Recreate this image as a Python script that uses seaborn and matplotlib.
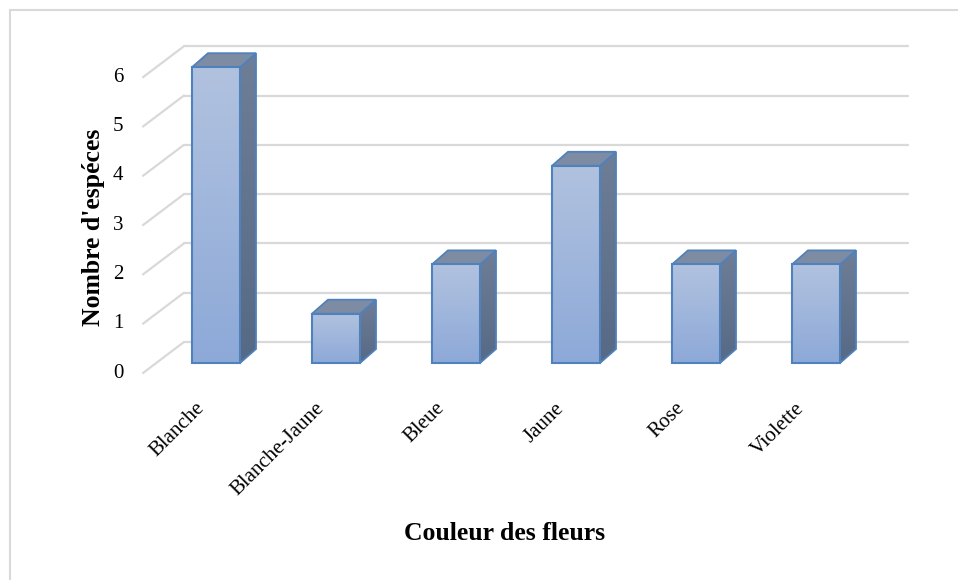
import numpy as np
import seaborn as sns
import matplotlib.pyplot as plt
from matplotlib.patches import Polygon, Rectangle

# Données du graphique
couleurs = ['Blanche', 'Blanche-Jaune', 'Bleue', 'Jaune', 'Rose', 'Violette']
nb_especes = [6, 1, 2, 4, 2, 2]
graduations = [0, 1, 2, 3, 4, 5, 6]

# Géométrie de la vue 3D (pixels de l'image)
W, H = 958, 580
X0_PX, PX_PER_CAT = 216, 120      # centre de la 1re barre, écart entre barres
Y0_PX, PX_PER_UNIT = 363, 49.3    # base des barres, pixels par unité


def px_x(x):
    return (x - X0_PX) / PX_PER_CAT


def px_y(y):
    return (Y0_PX - y) / PX_PER_UNIT


# décalages de profondeur (en unités de données)
BAR_DX, BAR_DY = 16 / PX_PER_CAT, 14 / PX_PER_UNIT
WALL_X0, WALL_X1 = px_x(184), px_x(908)
WALL_DY = (Y0_PX - 342) / PX_PER_UNIT
FRONT_X = px_x(143)
FRONT_DY = (Y0_PX - 373) / PX_PER_UNIT

FONT = 'Liberation Serif'
GRID = '#D9D9D9'
EDGE = '#4F81BD'

sns.set_theme(style='white')
plt.rcParams['font.family'] = [FONT, 'DejaVu Serif']
plt.rcParams['text.color'] = 'black'

fig = plt.figure(figsize=(W / 100, H / 100), dpi=100)
ax = fig.add_axes([0, 0, 1, 1])

# Barres (faces avant) via seaborn
sns.barplot(x=couleurs, y=nb_especes, width=0.4, color='#9DB3DA',
            edgecolor=EDGE, linewidth=1.5, ax=ax, zorder=5)

# Paroi du fond et paroi latérale (quadrillage)
for v in graduations:
    ax.plot([WALL_X0, WALL_X1], [v + WALL_DY, v + WALL_DY], color=GRID, lw=1.6, zorder=1)
    ax.plot([FRONT_X, WALL_X0], [v + FRONT_DY, v + WALL_DY], color=GRID, lw=1.6, zorder=1)
    ax.text(px_x(118), v + FRONT_DY, str(v), ha='center', va='center',
            fontsize=15, family=FONT)

# Relief des barres : dégradé + faces latérale et supérieure
grad = np.linspace(0, 1, 256).reshape(-1, 1)
for p in ax.patches[:len(nb_especes)]:
    x0, w, h = p.get_x(), p.get_width(), p.get_height()
    x1 = x0 + w
    p.set_facecolor('none')

    front = ax.imshow(grad, extent=[x0, x1, 0, h], origin='lower', aspect='auto',
                      cmap=sns.blend_palette(['#8DA9D8', '#B1C2DF'], as_cmap=True),
                      zorder=4)
    front.set_clip_path(p)

    side = Polygon([(x1, 0), (x1 + BAR_DX, BAR_DY), (x1 + BAR_DX, h + BAR_DY), (x1, h)],
                   closed=True, facecolor='none', edgecolor=EDGE, lw=1.3, zorder=3)
    ax.add_patch(side)
    side_img = ax.imshow(grad, extent=[x1, x1 + BAR_DX, 0, h + BAR_DY], origin='lower',
                         aspect='auto',
                         cmap=sns.blend_palette(['#566985', '#6F7E97'], as_cmap=True),
                         zorder=2)
    side_img.set_clip_path(side)

    top = Polygon([(x0, h), (x1, h), (x1 + BAR_DX, h + BAR_DY), (x0 + BAR_DX, h + BAR_DY)],
                  closed=True, facecolor='#7E8CA3', edgecolor=EDGE, lw=1.3, zorder=3)
    ax.add_patch(top)

# Étiquettes des catégories (45°)
for i, c in enumerate(couleurs):
    ax.text(i - 0.175, px_y(399), c, rotation=45, rotation_mode='anchor',
            ha='right', va='top', fontsize=15, family=FONT)

ax.text(px_x(505), px_y(534), 'Couleur des fleurs', ha='center', va='center',
        fontsize=18.5, fontweight='bold', family=FONT)
ax.text(px_x(93), px_y(227), "Nombre d'espéces", ha='center', va='center',
        rotation=90, fontsize=18.5, fontweight='bold', family=FONT)

ax.set_xlim(px_x(0), px_x(W))
ax.set_ylim(px_y(H), px_y(0))
ax.axis('off')

# Bordure de la zone de graphique
fig.patches.append(Rectangle((10 / W, -0.1), 1.2, 1.1 - 10 / H, transform=fig.transFigure,
                             fill=False, edgecolor=GRID, lw=1.5))

fig.savefig('out.png', dpi=100, facecolor='white')
